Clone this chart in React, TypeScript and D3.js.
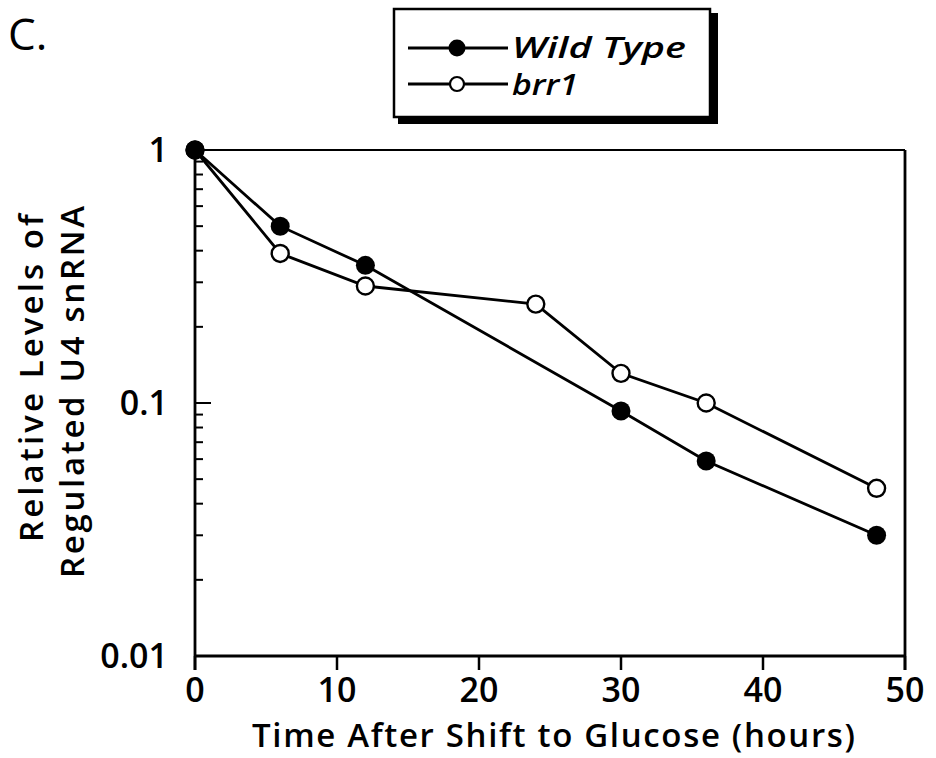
import React from "react";
import * as d3 from "d3";

const hours = [0, 6, 12, 30, 36, 48];
const wildType = [1, 0.5, 0.35, 0.093, 0.059, 0.03];
const brrHours = [0, 6, 12, 24, 30, 36, 48];
const brr1 = [1, 0.39, 0.29, 0.246, 0.131, 0.1, 0.046];
const xTicks = [0, 10, 20, 30, 40, 50];
const yTickLabels = ["1", "0.1", "0.01"];
const yTickValues = [1, 0.1, 0.01];

const W = 936;
const H = 758;
const FONT = "'Open Sans', 'DejaVu Sans', sans-serif";

export default function App() {
  const x = d3.scaleLinear().domain([0, 50]).range([195, 905]);
  const y = d3.scaleLog().domain([0.01, 1]).range([656, 150]);
  const line = d3
    .line<[number, number]>()
    .x((d) => x(d[0]))
    .y((d) => y(d[1]));
  const wt: [number, number][] = hours.map((h, i) => [h, wildType[i]]);
  const br: [number, number][] = brrHours.map((h, i) => [h, brr1[i]]);
  const minor: number[] = [];
  [0.01, 0.1].forEach((base) => {
    for (let k = 2; k <= 9; k++) minor.push(base * k);
  });
  const sw = 2.8;
  return (
    <svg
      width={W}
      height={H}
      style={{ position: "absolute", left: 0, top: 0, background: "#fff" }}
      fontFamily={FONT}
      fontWeight={600}
    >
      <rect x={0} y={0} width={W} height={H} fill="#fff" />
      <text x={8} y={50} fontSize={44} fontWeight={400} fill="#000">C.</text>

      {/* legend */}
      <rect x={398} y={13} width={320} height={111} fill="#000" />
      <rect x={394} y={9} width={316} height={108} fill="#fff" stroke="#000" strokeWidth={2.5} />
      <line x1={408} x2={508} y1={48} y2={48} stroke="#000" strokeWidth={sw} />
      <circle cx={457} cy={48} r={8.5} fill="#000" />
      <text x={512} y={58} fontSize={29} fontStyle="italic" textLength={174} lengthAdjust="spacingAndGlyphs" fill="#000">Wild Type</text>
      <line x1={408} x2={508} y1={84} y2={84} stroke="#000" strokeWidth={sw} />
      <circle cx={457} cy={84} r={7} fill="#fff" stroke="#000" strokeWidth={2.2} />
      <text x={512} y={95} fontSize={29} fontStyle="italic" textLength={66} lengthAdjust="spacingAndGlyphs" fill="#000">brr1</text>

      {/* frame */}
      <line x1={x(0)} x2={x(50)} y1={y(1)} y2={y(1)} stroke="#000" strokeWidth={2.2} />
      <line x1={x(50)} x2={x(50)} y1={y(1)} y2={y(0.01) + 14} stroke="#000" strokeWidth={2.8} />
      <line x1={x(0)} x2={x(50)} y1={y(0.01)} y2={y(0.01)} stroke="#000" strokeWidth={2.8} />
      <line x1={x(0)} x2={x(0)} y1={y(1)} y2={y(0.01) + 14} stroke="#000" strokeWidth={2.8} />

      {/* y ticks */}
      {minor.map((v, i) => (
        <line key={"m" + i} x1={x(0)} x2={x(0) + 8} y1={y(v)} y2={y(v)} stroke="#000" strokeWidth={2} />
      ))}
      {yTickValues.map((v, i) => (
        <g key={"y" + i}>
          <line x1={x(0)} x2={x(0) + 16} y1={y(v)} y2={y(v)} stroke="#000" strokeWidth={2} />
          <text x={168} y={y(v) + 12} fontSize={34} textAnchor="end" fill="#000">
            {yTickLabels[i]}
          </text>
        </g>
      ))}

      {/* x ticks */}
      {xTicks.map((t) => (
        <g key={"x" + t}>
          <line x1={x(t)} x2={x(t)} y1={y(0.01)} y2={y(0.01) + 14} stroke="#000" strokeWidth={2.5} />
          <text x={x(t)} y={y(0.01) + 46} fontSize={34} textAnchor="middle" fill="#000">
            {t}
          </text>
        </g>
      ))}

      <text x={252} y={747} fontSize={33} textLength={603} lengthAdjust="spacing" fill="#000">
        Time After Shift to Glucose (hours)
      </text>
      <text transform="translate(43,378) rotate(-90)" fontSize={33} textAnchor="middle" textLength={328} lengthAdjust="spacing" fill="#000">
        Relative Levels of
      </text>
      <text transform="translate(84,392) rotate(-90)" fontSize={33} textAnchor="middle" textLength={372} lengthAdjust="spacing" fill="#000">
        Regulated U4 snRNA
      </text>

      {/* series */}
      <path d={line(wt) || ""} fill="none" stroke="#000" strokeWidth={sw} />
      <path d={line(br) || ""} fill="none" stroke="#000" strokeWidth={sw} />
      {br.map((d, i) => (
        <circle key={"b" + i} cx={x(d[0])} cy={y(d[1])} r={8.5} fill="#fff" stroke="#000" strokeWidth={2.4} />
      ))}
      {wt.map((d, i) => (
        <circle key={"w" + i} cx={x(d[0])} cy={y(d[1])} r={9.5} fill="#000" />
      ))}
    </svg>
  );
}
